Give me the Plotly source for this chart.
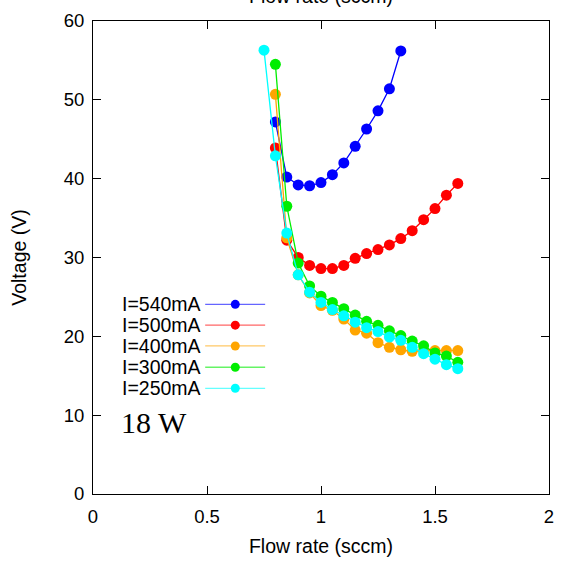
import plotly.graph_objects as go

# ---- data ----
labels = ["I=540mA", "I=500mA", "I=400mA", "I=300mA", "I=250mA"]
colors = ["#0000FF", "#FF0000", "#FFA500", "#00EE00", "#00FFFF"]

x_540 = [0.80, 0.85, 0.90, 0.95, 1.00, 1.05, 1.10, 1.15, 1.20, 1.25, 1.30, 1.35]
y_540 = [47.2, 40.2, 39.2, 39.1, 39.5, 40.5, 42.0, 44.1, 46.3, 48.6, 51.4, 56.2]

x_500 = [0.80, 0.85, 0.90, 0.95, 1.00, 1.05, 1.10, 1.15, 1.20, 1.25, 1.30, 1.35, 1.40, 1.45, 1.50, 1.55, 1.60]
y_500 = [43.9, 32.2, 30.0, 29.0, 28.6, 28.6, 29.0, 29.9, 30.5, 31.0, 31.6, 32.4, 33.4, 34.8, 36.2, 37.9, 39.4]

x_400 = [0.80, 0.85, 0.90, 0.95, 1.00, 1.05, 1.10, 1.15, 1.20, 1.25, 1.30, 1.35, 1.40, 1.45, 1.50, 1.55, 1.60]
y_400 = [50.7, 32.5, 27.8, 25.5, 23.9, 23.3, 22.2, 20.8, 20.4, 19.2, 18.6, 18.3, 18.1, 18.2, 18.2, 18.2, 18.2]

x_300 = [0.80, 0.85, 0.90, 0.95, 1.00, 1.05, 1.10, 1.15, 1.20, 1.25, 1.30, 1.35, 1.40, 1.45, 1.50, 1.55, 1.60]
y_300 = [54.5, 36.5, 29.3, 26.4, 25.1, 24.3, 23.5, 22.7, 21.9, 21.4, 20.7, 20.1, 19.4, 18.8, 17.9, 17.5, 16.7]

x_250 = [0.75, 0.80, 0.85, 0.90, 0.95, 1.00, 1.05, 1.10, 1.15, 1.20, 1.25, 1.30, 1.35, 1.40, 1.45, 1.50, 1.55, 1.60]
y_250 = [56.3, 42.9, 33.1, 27.8, 25.6, 24.3, 23.4, 22.6, 21.8, 21.1, 20.6, 19.9, 19.5, 18.6, 17.8, 17.1, 16.4, 15.9]

xs = [x_540, x_500, x_400, x_300, x_250]
ys = [y_540, y_500, y_400, y_300, y_250]

x_ticks = [0, 0.5, 1, 1.5, 2]
x_ticktext = ["0", "0.5", "1", "1.5", "2"]
y_ticks = [0, 10, 20, 30, 40, 50, 60]

FONT = "Liberation Sans, Arial, sans-serif"

fig = go.Figure()
for x, y, c, name in zip(xs, ys, colors, labels):
    fig.add_trace(go.Scatter(
        x=x, y=y, mode="lines+markers", name=name,
        line=dict(color=c, width=1.3),
        marker=dict(color=c, size=11),
        showlegend=False,
    ))

# custom legend (text left, sample right) on an overlay axis [0,1]
leg_rows = [0.401, 0.357, 0.313, 0.268, 0.2235]
for c, name, ry in zip(colors, labels, leg_rows):
    fig.add_trace(go.Scatter(
        x=[0.246, 0.3775], y=[ry, ry], mode="lines",
        line=dict(color=c, width=1.3), opacity=0.6,
        xaxis="x3", yaxis="y3", showlegend=False, hoverinfo="skip"))
    fig.add_trace(go.Scatter(
        x=[0.312], y=[ry], mode="markers",
        marker=dict(color=c, size=9),
        xaxis="x3", yaxis="y3", showlegend=False, hoverinfo="skip"))
    fig.add_annotation(x=0.242, y=ry, xref="paper", yref="paper",
                       text=name, showarrow=False, xanchor="right", yanchor="middle",
                       font=dict(family=FONT, size=19.5, color="black"))

fig.add_annotation(x=0.056, y=0.152, xref="paper", yref="paper", text="18 W",
                   showarrow=False, xanchor="left", yanchor="middle",
                   font=dict(family="Liberation Serif, Times New Roman, serif", size=30, color="black"))

# cut-off top title
fig.add_annotation(x=0.5, y=1, xref="paper", yref="paper", text="Flow rate (sccm)",
                   showarrow=False, xanchor="center", yanchor="bottom", yshift=12,
                   font=dict(family=FONT, size=19.5, color="black"))

axis_common = dict(showline=True, linecolor="black", linewidth=1, mirror="ticks",
                   ticks="inside", ticklen=8, tickcolor="black", showgrid=False,
                   zeroline=False, automargin=False,
                   tickfont=dict(family=FONT, size=18.5, color="black"))

fig.update_layout(
    width=563, height=562,
    margin=dict(l=92.5, r=13.5, t=21, b=68),
    paper_bgcolor="white", plot_bgcolor="white",
    xaxis=dict(range=[0, 2], tickvals=x_ticks, ticktext=x_ticktext, ticklabelstandoff=6,
               title=dict(text="Flow rate (sccm)", font=dict(family=FONT, size=19.5, color="black"), standoff=13),
               **axis_common),
    yaxis=dict(range=[0, 60], tickvals=y_ticks, ticklabelstandoff=4,
               title=dict(text="Voltage (V)", font=dict(family=FONT, size=19.5, color="black"), standoff=31),
               **axis_common),
    xaxis3=dict(overlaying="x", range=[0, 1], visible=False, fixedrange=True),
    yaxis3=dict(overlaying="y", range=[0, 1], visible=False, fixedrange=True),
    showlegend=False,
)

fig.write_html("out.html")
